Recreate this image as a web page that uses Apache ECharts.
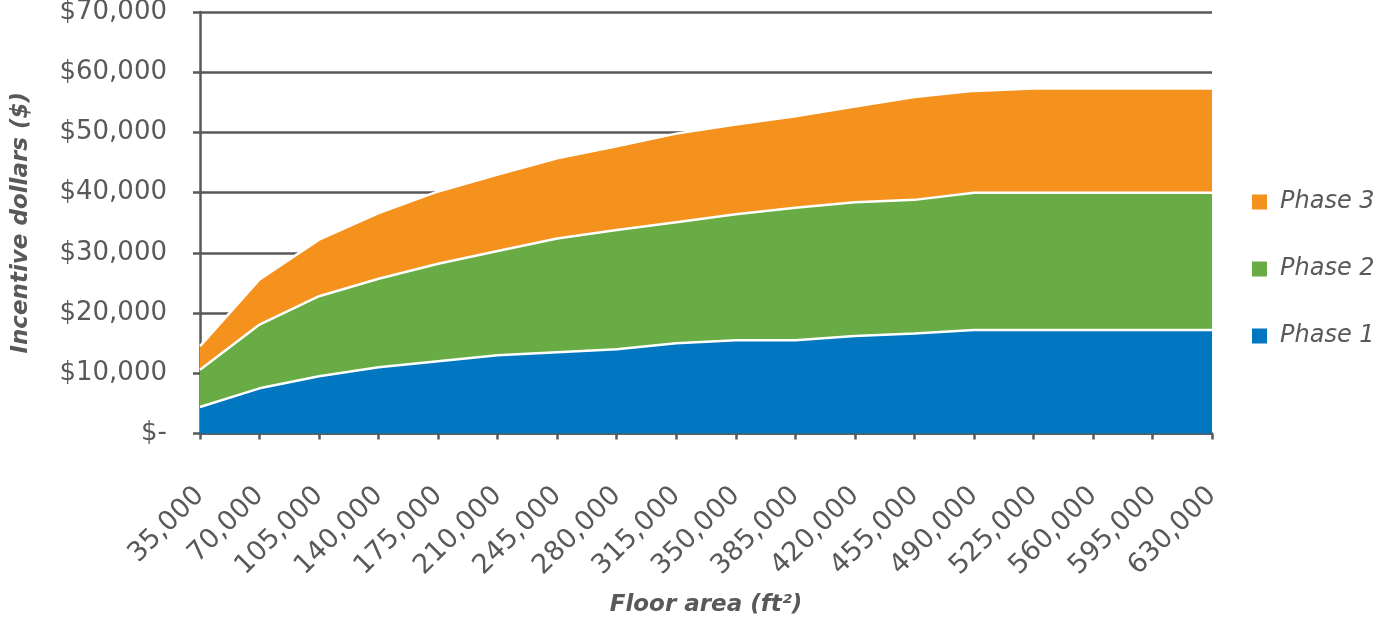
<!DOCTYPE html>
<html>
<head>
<meta charset="utf-8">
<script src="https://cdn.jsdelivr.net/npm/echarts@6/dist/echarts.min.js"></script>
<style>html,body{margin:0;padding:0;background:#fff;}#chart{width:1379px;height:618px;}</style>
</head>
<body>
<div id="chart"></div>
<script>
const categories = ['35,000','70,000','105,000','140,000','175,000','210,000','245,000','280,000','315,000','350,000','385,000','420,000','455,000','490,000','525,000','560,000','595,000','630,000'];
const phase1 = [4400, 7500, 9500, 11000, 12000, 13000, 13500, 14000, 15000, 15500, 15500, 16200, 16600, 17200, 17200, 17200, 17200, 17200];
const phase2 = [6200, 10600, 13300, 14700, 16200, 17300, 18900, 19800, 20100, 20900, 22000, 22200, 22200, 22800, 22800, 22800, 22800, 22800];
const phase3 = [3900, 7500, 9400, 10900, 12000, 12700, 13300, 13900, 14700, 14900, 15200, 15900, 17100, 16900, 17300, 17300, 17300, 17300];
const yTicks = [0, 10000, 20000, 30000, 40000, 50000, 60000, 70000];

const axisColor = '#595959';
const font = 'DejaVu Sans';
const chart = echarts.init(document.getElementById('chart'));
function mk(name, data, color, z) {
  return {
    name: name, type: 'line', stack: 'total', data: data, z: z,
    showSymbol: false, symbol: 'none',
    lineStyle: { color: '#ffffff', width: 2.5 },
    itemStyle: { color: color },
    areaStyle: { color: color, opacity: 1 },
    emphasis: { disabled: true }
  };
}
chart.setOption({
  animation: false,
  textStyle: { fontFamily: font },
  grid: { left: 200, right: 167, top: 12, bottom: 184.5, containLabel: false, outerBoundsMode: 'none' },
  legend: {
    orient: 'vertical', left: 1252, top: 190, padding: 0,
    data: ['Phase 3', 'Phase 2', 'Phase 1'],
    itemWidth: 15, itemHeight: 15, itemGap: 43,
    icon: 'rect',
    textStyle: { fontFamily: font, fontSize: 24, fontStyle: 'italic', color: axisColor, lineHeight: 24, padding: [0, 0, 0, 8] }
  },
  xAxis: {
    type: 'category', data: categories, boundaryGap: false,
    name: 'Floor area (ft²)', nameLocation: 'middle', nameGap: 160,
    nameTextStyle: { fontFamily: font, fontSize: 23, fontWeight: 'bold', fontStyle: 'italic', color: axisColor },
    axisLine: { lineStyle: { color: axisColor, width: 2.5 } },
    axisTick: { show: true, length: 6, lineStyle: { color: axisColor, width: 2.5 }, alignWithLabel: true },
    axisLabel: { rotate: 45, margin: 58, fontSize: 27, color: axisColor, interval: 0 },
    splitLine: { show: false }
  },
  yAxis: {
    type: 'value', min: 0, max: 70000, interval: 10000,
    name: 'Incentive dollars ($)', nameLocation: 'middle', nameGap: 167, nameRotate: 90,
    nameTextStyle: { fontFamily: font, fontSize: 23, fontWeight: 'bold', fontStyle: 'italic', color: axisColor },
    axisLine: { show: true, lineStyle: { color: axisColor, width: 2.5 } },
    axisTick: { show: true, length: 7, lineStyle: { color: axisColor, width: 2.5 } },
    axisLabel: {
      margin: 33, fontSize: 26, color: axisColor,
      formatter: function (v) { return yTicks.indexOf(v) === 0 ? '$-' : '$' + v.toLocaleString('en-US'); }
    },
    splitLine: { show: true, lineStyle: { color: axisColor, width: 2.5 } }
  },
  series: [
    mk('Phase 1', phase1, '#0077C0', 5),
    mk('Phase 2', phase2, '#69AB45', 4),
    mk('Phase 3', phase3, '#F5921E', 3)
  ]
});
</script>
</body>
</html>
